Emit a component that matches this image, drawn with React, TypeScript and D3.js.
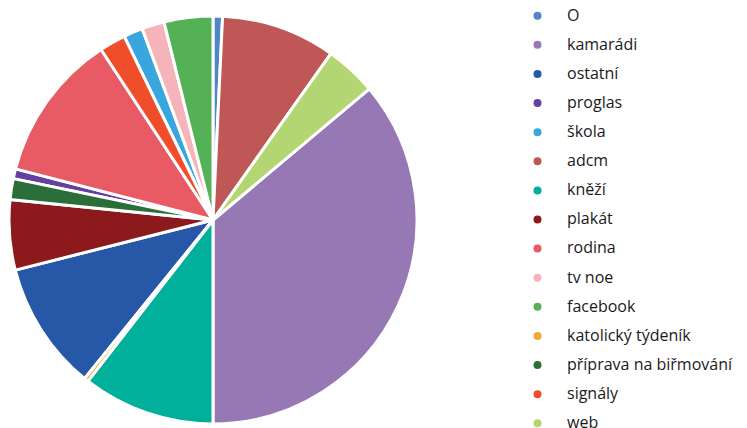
import React from "react";
import * as d3 from "d3";

// Legend order
const categories = [
  "O",
  "kamarádi",
  "ostatní",
  "proglas",
  "škola",
  "adcm",
  "kněží",
  "plakát",
  "rodina",
  "tv noe",
  "facebook",
  "katolický týdeník",
  "příprava na biřmování",
  "signály",
  "web",
];

// Share in percent
const values = [0.75, 36.11, 10.22, 0.78, 1.53, 9.06, 10.5, 5.56, 11.72, 1.78, 3.86, 0.33, 1.64, 2.08, 4.08];

const colors = [
  "#4f86c6",
  "#9679b4",
  "#2757a7",
  "#6441a0",
  "#3aa6de",
  "#bf5757",
  "#00b09b",
  "#8c1a1c",
  "#e85a64",
  "#f4b4b9",
  "#55b155",
  "#eeaa33",
  "#2c6e3a",
  "#f04e2b",
  "#b3d572",
];

// Clockwise order of slices from 12 o'clock
const pieOrder = [
  "O",
  "adcm",
  "web",
  "kamarádi",
  "kněží",
  "katolický týdeník",
  "ostatní",
  "plakát",
  "příprava na biřmování",
  "proglas",
  "rodina",
  "signály",
  "škola",
  "tv noe",
  "facebook",
];

export default function App() {
  const width = 747;
  const height = 428;
  const cx = 213;
  const cy = 220;
  const radius = 204;

  const data = categories.map((c, i) => ({ name: c, value: values[i], color: colors[i] }));

  const pie = d3
    .pie<{ name: string; value: number; color: string }>()
    .value((d) => d.value)
    .sort((a, b) => pieOrder.indexOf(a.name) - pieOrder.indexOf(b.name));
  const arcs = pie(data);
  const arc = d3
    .arc<d3.PieArcDatum<{ name: string; value: number; color: string }>>()
    .innerRadius(0)
    .outerRadius(radius);

  const legendY = d3.scaleLinear().domain([0, categories.length - 1]).range([15.7, 423.3]);

  return (
    <svg
      width={width}
      height={height}
      style={{ position: "absolute", left: 0, top: 0, background: "#fff" }}
      fontFamily="'Open Sans', sans-serif"
    >
      <g transform={`translate(${cx},${cy})`}>
        {arcs.map((a) => (
          <path
            key={a.data.name}
            d={arc(a) || ""}
            fill={a.data.color}
            stroke="#ffffff"
            strokeWidth={3}
            strokeLinejoin="round"
          />
        ))}
      </g>
      <g>
        {data.map((d, i) => (
          <g key={d.name} transform={`translate(0,${legendY(i)})`}>
            <circle cx={537.5} cy={0} r={4} fill={d.color} />
            <text x={567} y={0} dy="0.3em" fontSize={16} fill="#1a1a1a">
              {d.name}
            </text>
          </g>
        ))}
      </g>
    </svg>
  );
}
